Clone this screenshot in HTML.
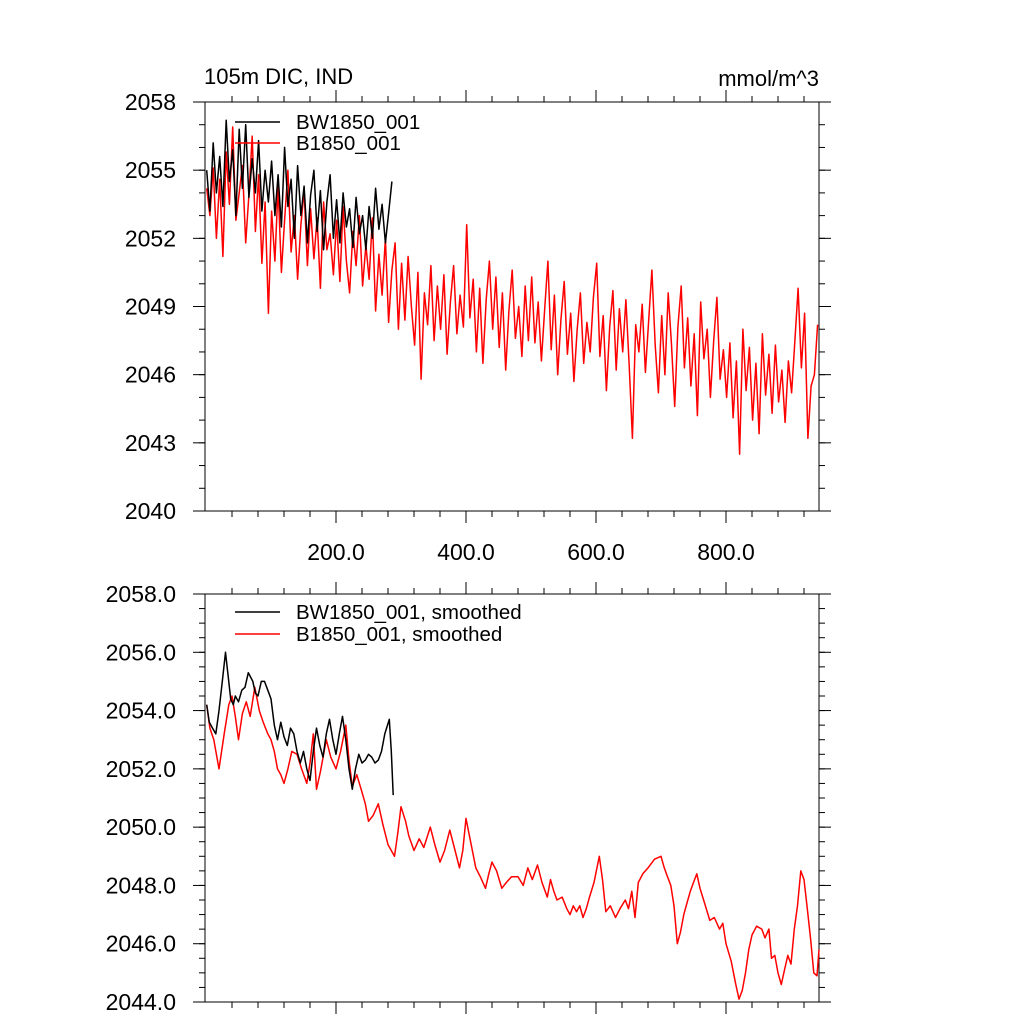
<!DOCTYPE html>
<html><head><meta charset="utf-8"><style>
html,body{margin:0;padding:0;background:#fff}
svg{display:block;font-family:"Liberation Sans",sans-serif}
</style></head><body>
<svg id="c" width="1024" height="1024" xmlns="http://www.w3.org/2000/svg">
<text x="204" y="84" font-size="22">105m DIC, IND</text>
<text x="819" y="86" font-size="22" text-anchor="end">mmol/m^3</text>
</svg>
<script>
// ---- data ----
const redRawStart = 1, redRawStep = 5;
const redRaw = [2054.2,2053.0,2055.1,2052.0,2054.6,2051.2,2055.8,2053.5,2056.9,2052.8,2054.0,2055.2,2051.8,2053.9,2056.5,2052.3,2054.8,2050.9,2053.6,2048.7,
2053.2,2051.0,2054.3,2050.5,2052.8,2055.0,2051.4,2053.0,2050.2,2052.6,2054.1,2050.8,2053.3,2051.1,2052.9,2049.8,2053.6,2051.5,2052.2,2050.4,
2052.8,2050.1,2053.4,2051.0,2049.6,2052.3,2050.8,2053.0,2049.9,2051.7,2050.2,2052.9,2048.8,2051.3,2049.5,2052.0,2048.3,2050.6,2051.8,2048.0,
2050.9,2048.4,2051.2,2049.0,2047.3,2050.5,2045.8,2049.6,2048.2,2050.8,2047.5,2049.9,2048.0,2050.4,2046.9,2049.2,2050.8,2047.8,2049.5,2048.1,
2052.6,2048.5,2050.2,2047.0,2049.8,2046.5,2049.3,2051.0,2048.0,2050.3,2047.2,2049.6,2046.2,2048.8,2050.6,2047.6,2049.0,2046.8,2049.9,2047.5,
2050.3,2047.4,2049.2,2046.6,2048.9,2051.0,2047.1,2049.5,2046.0,2048.4,2050.1,2046.9,2048.7,2045.7,2048.0,2049.6,2046.5,2048.3,2047.0,2049.4,
2050.9,2046.8,2048.6,2045.3,2048.1,2049.7,2046.2,2048.9,2047.0,2049.3,2046.4,2043.2,2048.2,2047.0,2049.1,2046.1,2048.4,2050.6,2047.3,2045.2,
2048.6,2046.0,2049.6,2047.4,2044.6,2048.1,2049.9,2046.3,2048.5,2045.5,2047.8,2044.2,2049.2,2046.7,2048.0,2045.0,2047.5,2049.4,2045.8,2047.1,
2045.0,2047.4,2044.1,2046.6,2042.5,2048.0,2045.3,2047.2,2044.0,2046.5,2043.4,2047.8,2045.1,2046.9,2044.3,2047.3,2044.8,2046.2,2043.9,2046.6,
2045.2,2047.5,2049.8,2046.3,2048.7,2043.2,2045.5,2046.0,2048.2];
const blackRaw = [2055.0,2053.2,2056.2,2054.0,2055.6,2053.4,2057.2,2054.5,2055.9,2053.0,2056.8,2054.2,2057.0,2053.8,2055.5,2054.0,2056.3,2053.2,2055.0,2053.6,
2055.4,2053.0,2054.8,2052.5,2056.0,2053.4,2054.6,2052.0,2055.2,2053.0,2054.3,2051.8,2053.9,2055.0,2052.3,2054.1,2051.5,2053.6,2054.8,2052.0,
2053.7,2051.8,2054.0,2052.5,2053.3,2051.6,2053.8,2052.2,2053.0,2051.5,2053.4,2052.0,2054.2,2052.4,2053.5,2051.8,2053.1,2054.5];
const redSmYears = [1,6,12,20,28,35,40,45,50,56,62,68,75,82,88,95,100,105,110,115,120,126,132,140,147,155,160,165,170,176,185,192,200,207,215,220,225,232,240,245,250,257,265,272,280,285,290,295,300,307,312,320,328,335,345,352,360,367,375,382,390,395,400,407,415,422,430,435,440,447,455,462,470,480,488,495,502,510,517,525,530,535,540,548,555,560,565,570,575,580,585,590,597,605,610,615,622,630,637,645,650,655,660,665,672,680,690,700,705,710,715,720,725,730,735,740,745,750,755,760,767,775,782,790,795,800,808,815,820,825,830,835,840,847,855,860,866,870,875,880,885,890,895,900,905,910,915,920,925,930,935,940,943];
const redSm = [2054.2,2053.4,2053.0,2052.0,2053.2,2054.2,2054.5,2053.8,2053.0,2053.9,2054.3,2053.8,2054.8,2054.0,2053.6,2053.2,2053.0,2052.6,2052.0,2051.8,2051.5,2052.0,2052.6,2052.5,2052.0,2051.5,2052.2,2053.2,2051.3,2051.9,2053.0,2052.4,2052.0,2052.6,2053.5,2052.3,2051.4,2051.8,2051.2,2050.8,2050.2,2050.4,2050.8,2050.1,2049.4,2049.2,2049.0,2049.8,2050.7,2050.2,2049.7,2049.2,2049.6,2049.3,2050.0,2049.4,2048.8,2049.2,2049.9,2049.3,2048.6,2049.2,2050.3,2049.5,2048.6,2048.3,2047.9,2048.4,2048.8,2048.5,2047.9,2048.1,2048.3,2048.3,2048.0,2048.6,2048.2,2048.7,2048.1,2047.6,2048.2,2047.8,2047.5,2047.6,2047.2,2047.0,2047.3,2047.1,2047.3,2046.9,2047.2,2047.6,2048.1,2049.0,2048.2,2047.1,2047.3,2046.9,2047.2,2047.5,2047.2,2047.8,2046.9,2048.1,2048.4,2048.6,2048.9,2049.0,2048.6,2048.3,2048.0,2047.3,2046.0,2046.4,2047.0,2047.4,2047.8,2048.1,2048.4,2047.9,2047.4,2046.8,2046.9,2046.5,2046.7,2046.0,2045.4,2044.6,2044.1,2044.4,2045.0,2045.8,2046.3,2046.6,2046.5,2046.2,2046.5,2045.5,2045.6,2045.0,2044.6,2045.1,2045.6,2045.3,2046.5,2047.3,2048.5,2048.2,2047.2,2046.2,2045.0,2044.9,2045.8];
const blackSmYears = [1,5,10,15,20,25,30,34,38,42,45,50,55,60,65,72,76,80,85,90,95,100,105,110,115,120,125,130,135,140,145,150,155,160,165,170,175,180,185,190,195,200,205,210,215,220,225,230,235,240,245,250,255,260,265,270,275,282,285,288];
const blackSm = [2054.2,2053.6,2053.4,2053.2,2054.0,2055.0,2056.0,2055.2,2054.4,2054.2,2054.5,2054.3,2054.7,2054.8,2055.3,2055.0,2054.6,2054.5,2055.0,2055.0,2054.7,2054.4,2053.5,2053.0,2053.6,2053.1,2052.8,2053.4,2053.2,2052.6,2052.2,2052.6,2052.0,2051.6,2052.6,2053.4,2052.8,2052.4,2053.2,2053.7,2053.0,2052.5,2053.2,2053.8,2053.0,2052.0,2051.3,2052.0,2052.5,2052.2,2052.3,2052.5,2052.4,2052.2,2052.3,2052.6,2053.2,2053.7,2052.6,2051.1];
const xTickVals = [200,400,600,800];
const topYTicks = [2040,2043,2046,2049,2052,2055,2058];
const botYTicks = [2044,2046,2048,2050,2052,2054,2056,2058];

const NS="http://www.w3.org/2000/svg", svg=document.getElementById('c');
function el(tag,attrs,parent){const e=document.createElementNS(NS,tag);for(const k in attrs)e.setAttribute(k,attrs[k]);(parent||svg).appendChild(e);return e;}
const X0=206, XL=205, XR=819, PX=0.65;
const xs=v=>X0+v*PX;
function panel(top,bot,ymin,ymax,yTicks,minorStep,labelX,fmt,name){
  const g=el('g',{});
  
  
  const ys=v=>bot-(v-ymin)/(ymax-ymin)*(bot-top);
  const f=el('rect',{x:XL,y:top,width:XR-XL,height:bot-top,fill:'none',stroke:'#000','stroke-width':1},g);
  
  
  for(let v=ymin;v<=ymax+1e-9;v+=minorStep){const y=ys(v);
    el('line',{x1:XL,x2:XL-6,y1:y,y2:y,stroke:'#000'},g);el('line',{x1:XR,x2:XR+6,y1:y,y2:y,stroke:'#000'},g);}
  yTicks.forEach(v=>{const y=ys(v);
    el('line',{x1:XL,x2:XL-12,y1:y,y2:y,stroke:'#000'},g);el('line',{x1:XR,x2:XR+12,y1:y,y2:y,stroke:'#000'},g);
    const t=el('text',{x:176,y:y+8,'font-size':23,'text-anchor':'end'},g);t.textContent=fmt(v);
    
    });
  for(let v=40;v<943;v+=40){const x=xs(v);
    el('line',{x1:x,x2:x,y1:bot,y2:bot+6,stroke:'#000'},g);el('line',{x1:x,x2:x,y1:top,y2:top-6,stroke:'#000'},g);}
  xTickVals.forEach(v=>{const x=xs(v);
    el('line',{x1:x,x2:x,y1:bot,y2:bot+12,stroke:'#000'},g);el('line',{x1:x,x2:x,y1:top,y2:top-12,stroke:'#000'},g);
    if(labelX){const t=el('text',{x:x,y:bot+49,'font-size':23,'text-anchor':'middle'},g);t.textContent=v.toFixed(1);
      
      }});
  return {g,ys};
}
function line(p,years,vals,color,name){
  const d=vals.map((v,i)=>(i?'L':'M')+xs(years[i]).toFixed(1)+','+p.ys(v).toFixed(1)).join('');
  const e=el('path',{d:d,fill:'none',stroke:color,'stroke-width':1.5,'stroke-linejoin':'round'},p.g);
  
  
}
function legend(p,y,color,label,name){
  el('line',{x1:235,x2:280,y1:y,y2:y,stroke:color,'stroke-width':1.5},p.g);
  const t=el('text',{x:296,y:y+7,'font-size':20.5},p.g);t.textContent=label;
  
  
}
const p1=panel(102,511,2040,2058,topYTicks,1,true,v=>String(v),'raw-panel');
line(p1,redRaw.map((_,i)=>redRawStart+i*redRawStep),redRaw,'#ff0000','b1850-raw-line');
line(p1,blackRaw.map((_,i)=>redRawStart+i*redRawStep),blackRaw,'#000000','bw1850-raw-line');
legend(p1,122,'#000','BW1850_001','legend-bw1850');
legend(p1,143,'#ff0000','B1850_001','legend-b1850');
const p2=panel(594,1002,2044,2058,botYTicks,0.5,false,v=>v.toFixed(1),'smoothed-panel');
line(p2,redSmYears,redSm,'#ff0000','b1850-smoothed-line');
line(p2,blackSmYears,blackSm,'#000000','bw1850-smoothed-line');
legend(p2,612,'#000','BW1850_001, smoothed','legend-bw1850-smoothed');
legend(p2,634,'#ff0000','B1850_001, smoothed','legend-b1850-smoothed');
</script>
</body></html>
